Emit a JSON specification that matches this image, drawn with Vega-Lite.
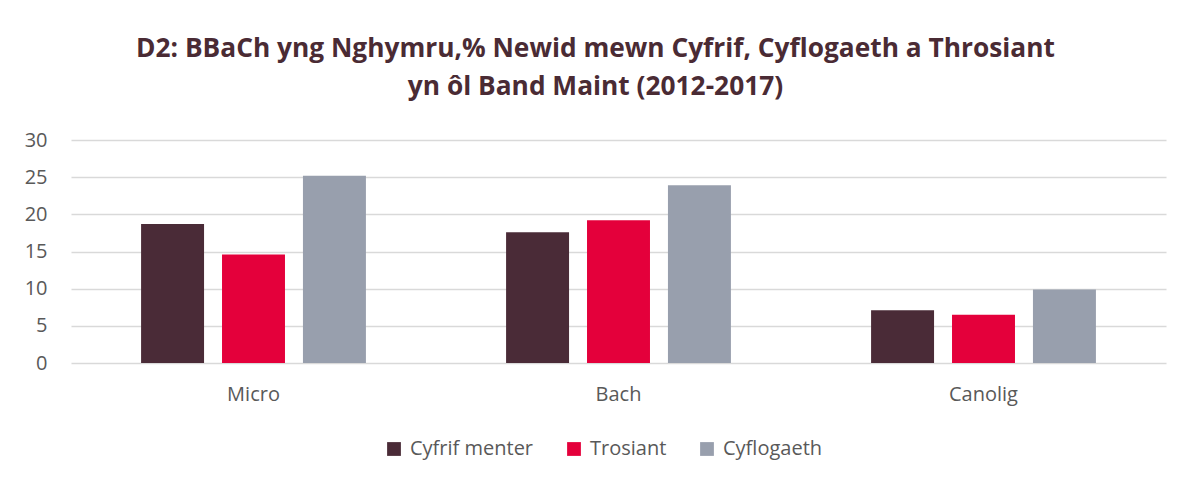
{
  "$schema": "https://vega.github.io/schema/vega-lite/v6.json",
  "autosize": "none",
  "width": 1095,
  "height": 223,
  "padding": {"left": 71, "top": 140, "right": 23, "bottom": 117},
  "background": "white",
  "title": {
    "text": ["D2: BBaCh yng Nghymru,% Newid mewn Cyfrif, Cyflogaeth a Throsiant", "yn ôl Band Maint (2012-2017)"],
    "font": "Open Sans",
    "fontSize": 26.3,
    "fontWeight": "bold",
    "color": "#4A2B34",
    "anchor": "middle",
    "dx": -23,
    "offset": 30,
    "lineHeight": 38
  },
  "data": {
    "values": [
      {"band": "Micro", "series": "Cyfrif menter", "value": 18.7},
      {"band": "Micro", "series": "Trosiant", "value": 14.6},
      {"band": "Micro", "series": "Cyflogaeth", "value": 25.2},
      {"band": "Bach", "series": "Cyfrif menter", "value": 17.6},
      {"band": "Bach", "series": "Trosiant", "value": 19.2},
      {"band": "Bach", "series": "Cyflogaeth", "value": 23.9},
      {"band": "Canolig", "series": "Cyfrif menter", "value": 7.1},
      {"band": "Canolig", "series": "Trosiant", "value": 6.5},
      {"band": "Canolig", "series": "Cyflogaeth", "value": 9.9}
    ]
  },
  "mark": {"type": "bar"},
  "encoding": {
    "x": {
      "field": "band",
      "type": "nominal",
      "sort": ["Micro", "Bach", "Canolig"],
      "scale": {"paddingInner": 0.384, "paddingOuter": 0.192},
      "axis": {
        "title": null,
        "labelAngle": 0,
        "labelFont": "Open Sans",
        "labelFontSize": 20,
        "labelColor": "#595959",
        "labelPadding": 21,
        "ticks": false,
        "domain": false,
        "grid": false
      }
    },
    "xOffset": {
      "field": "series",
      "type": "nominal",
      "sort": ["Cyfrif menter", "Trosiant", "Cyflogaeth"],
      "scale": {"paddingInner": 0.222, "paddingOuter": 0}
    },
    "y": {
      "field": "value",
      "type": "quantitative",
      "scale": {"domain": [0, 30], "nice": false},
      "axis": {
        "title": null,
        "values": [0, 5, 10, 15, 20, 25, 30],
        "labelFont": "Open Sans",
        "labelFontSize": 20,
        "labelColor": "#595959",
        "labelPadding": 24,
        "ticks": false,
        "domain": false,
        "grid": true,
        "gridColor": "#D9D9D9",
        "gridWidth": 1.5
      }
    },
    "color": {
      "field": "series",
      "type": "nominal",
      "sort": ["Cyfrif menter", "Trosiant", "Cyflogaeth"],
      "scale": {
        "domain": ["Cyfrif menter", "Trosiant", "Cyflogaeth"],
        "range": ["#4A2B37", "#E4003B", "#989FAD"]
      },
      "legend": {
        "title": null,
        "orient": "none",
        "direction": "horizontal",
        "legendX": 313,
        "legendY": 299,
        "symbolType": "square",
        "symbolSize": 190,
        "symbolStrokeWidth": 0,
        "labelFont": "Open Sans",
        "labelFontSize": 20,
        "labelColor": "#595959",
        "columnPadding": 30,
        "labelOffset": 6
      }
    }
  },
  "config": {
    "view": {"stroke": null}
  }
}
